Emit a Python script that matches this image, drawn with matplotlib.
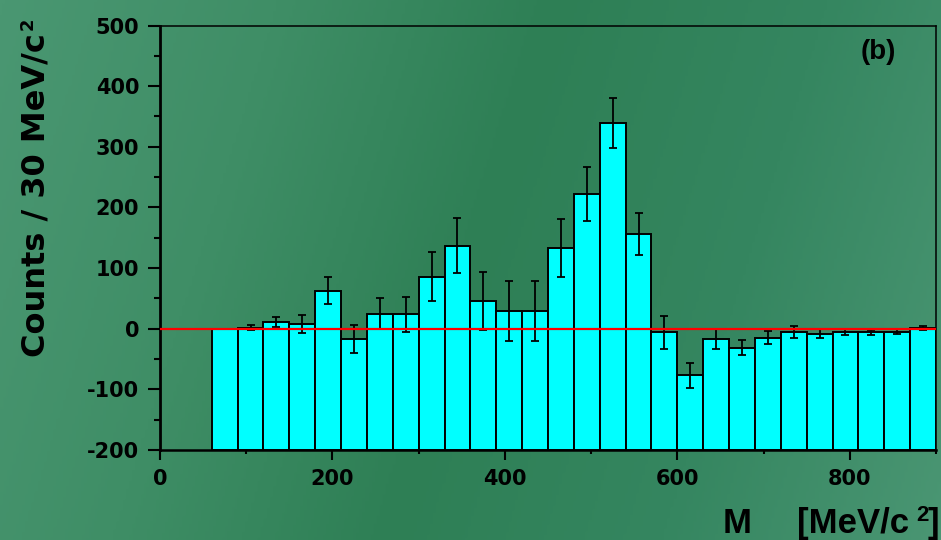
import numpy as np
import matplotlib
matplotlib.use("Agg")
import matplotlib.pyplot as plt
from matplotlib.colors import LinearSegmentedColormap

# ---- data ----
bin_start = 60
bin_width = 30
counts = [0, 2, 11, 8, 63, -17, 25, 24, 86, 137, 46, 29, 29, 133, 222, 339, 156,
          -6, -77, -17, -31, -15, -6, -8, -5, -6, -5, 1]
errors = [0, 4, 8, 15, 22, 23, 25, 29, 40, 45, 48, 49, 49, 48, 44, 41, 34,
          27, 20, 17, 13, 11, 10, 7, 5, 4, 4, 3]
x_ticks = [0, 200, 400, 600, 800]
y_ticks = [-200, -100, 0, 100, 200, 300, 400, 500]
xlim = (0, 900)
ylim = (-200, 500)

plt.rcParams['font.family'] = ['DejaVu Sans']
plt.rcParams['font.weight'] = 'bold'
plt.rcParams['axes.unicode_minus'] = False
LIB = ['Liberation Sans', 'DejaVu Sans']

W, H = 941, 540
fig = plt.figure(figsize=(W / 100, H / 100), dpi=100)

# background gradient
bg = fig.add_axes([0, 0, 1, 1], zorder=-10)
bg.set_axis_off()
cmap = LinearSegmentedColormap.from_list(
    "g", ["#4a9772", "#3f8e66", "#2e7f55", "#358660", "#4a9673"])
xx = np.linspace(0, 1, 300)
yy = np.linspace(0, 1, 200)
X, Y = np.meshgrid(xx, yy)
Z = 0.85 * X + 0.15 * (1 - Y)
bg.imshow(Z, cmap=cmap, aspect='auto', extent=[0, 1, 0, 1], origin='lower')
bg.set_xlim(0, 1)
bg.set_ylim(0, 1)

l, r, t, b = 160, 936, 25.5, 450
ax = fig.add_axes([l / W, (H - b) / H, (r - l) / W, (b - t) / H])
ax.set_facecolor('none')

counts_a = np.array(counts, dtype=float)
errs_a = np.array(errors, dtype=float)
centers = bin_start + bin_width * (np.arange(len(counts)) + 0.5)

ax.bar(centers, counts_a - ylim[0], bottom=ylim[0], width=bin_width,
       color='#00ffff', edgecolor='black', linewidth=1.4, zorder=3)

m = errs_a > 0
ax.errorbar(centers[m], counts_a[m], yerr=errs_a[m], fmt='none',
            ecolor='black', elinewidth=1.3, capsize=3, capthick=1.3, zorder=4)

ax.axhline(0, color='#ff0000', linewidth=1.6, zorder=5)

ax.set_xlim(*xlim)
ax.set_ylim(*ylim)
ax.set_xticks(x_ticks)
ax.set_xticks(np.arange(100, 901, 200), minor=True)
ax.set_yticks(y_ticks)
ax.set_yticks(np.arange(-150, 500, 100), minor=True)

ax.tick_params(axis='y', which='major', direction='out', length=8.5, width=1.5,
               labelsize=15, pad=6.5)
ax.tick_params(axis='y', which='minor', direction='out', length=4.3, width=1.5)
ax.tick_params(axis='x', which='major', direction='out', length=7, width=1.5,
               labelsize=15, pad=7)
ax.tick_params(axis='x', which='minor', direction='out', length=3, width=1.5)
for lab in ax.get_xticklabels() + ax.get_yticklabels():
    lab.set_fontweight('bold')

ax.spines['left'].set_linewidth(2.0)
ax.spines['bottom'].set_linewidth(1.8)
ax.spines['top'].set_linewidth(1.1)
ax.spines['right'].set_linewidth(1.1)

# panel label
fig.text(878 / W, (H - 52) / H, '(b)', ha='center', va='center',
         fontsize=20, fontweight='bold', family=LIB)

# y label
fig.text(45 / W, (H - 357) / H, 'Counts / 30 MeV/c', rotation=90,
         ha='left', va='baseline', fontsize=23, fontweight='bold',
         rotation_mode='anchor')
fig.text(33 / W, (H - 30) / H, '2', rotation=90, ha='left', va='baseline',
         fontsize=13, fontweight='bold', rotation_mode='anchor')

# x label
fig.text(723 / W, (H - 533) / H, 'M', ha='left', va='baseline',
         fontsize=25, fontweight='bold', family=LIB)
fig.text(797 / W, (H - 533) / H, '[MeV/c', ha='left', va='baseline',
         fontsize=25, fontweight='bold', family=LIB)
fig.text(916 / W, (H - 521) / H, '2', ha='left', va='baseline',
         fontsize=16, fontweight='bold', family=LIB)
fig.text(928 / W, (H - 533) / H, ']', ha='left', va='baseline',
         fontsize=25, fontweight='bold', family=LIB)

fig.savefig('out.png', dpi=100)
